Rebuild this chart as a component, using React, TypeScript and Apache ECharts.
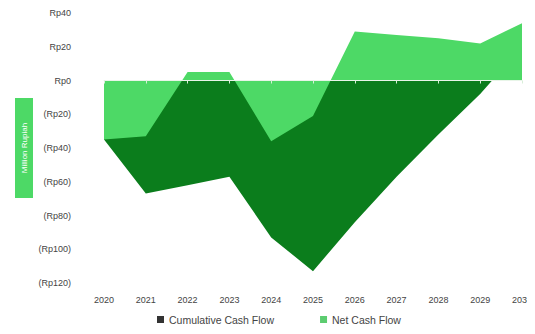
import React, { useEffect, useRef } from "react";
import * as echarts from "echarts";

const years = ["2020", "2021", "2022", "2023", "2024", "2025", "2026", "2027", "2028", "2029", "2030"];
const netCashFlow = [-35, -33, 5, 5, -36, -21, 29, 27, 25, 22, 34];
const cumulativeCashFlow = [-35, -67, -62, -57, -93, -113, -84, -57, -32, -8, 20];
const yTicks = { min: -120, max: 40, interval: 20 };

const DARK = "#0b7d1c";
const LIGHT = "#4dd966";
const FONT = "'Liberation Sans Narrow', 'Liberation Sans', Arial, sans-serif";

function fmt(v: number) {
  if (v < 0) return "(Rp" + Math.abs(v) + ")";
  return "Rp" + v;
}

export default function App() {
  const ref = useRef<HTMLDivElement>(null);
  useEffect(() => {
    if (!ref.current) return;
    const chart = echarts.init(ref.current, undefined, { renderer: "svg" });
    chart.setOption({
      animation: false,
      grid: { left: 104, right: 8, top: 13, bottom: 51, containLabel: false },
      legend: {
        bottom: 4,
        left: 152,
        itemWidth: 7,
        itemHeight: 7,
        itemGap: 46,
        icon: "rect",
        textStyle: { fontSize: 10.5, color: "#444", fontFamily: FONT },
        data: [
          { name: "Cumulative Cash Flow", itemStyle: { color: "#333" } },
          { name: "Net Cash Flow", itemStyle: { color: "#5ccc70" } },
        ],
      },
      xAxis: [
        {
          type: "category",
          data: years,
          boundaryGap: false,
          axisLine: { show: false, onZero: false },
          axisTick: { show: false },
          axisLabel: { fontSize: 9, color: "#444", fontFamily: FONT, margin: 12 },
        },
        {
          type: "category",
          data: years,
          boundaryGap: false,
          position: "bottom",
          axisLine: { show: true, onZero: true, lineStyle: { color: "#e8f5e8", width: 1 } },
          axisTick: { show: true, length: 3, lineStyle: { color: "#d8eed8" } },
          axisLabel: { show: false },
          z: 10,
        },
      ],
      yAxis: {
        type: "value",
        min: yTicks.min,
        max: yTicks.max,
        interval: yTicks.interval,
        name: "Million Rupiah",
        nameLocation: "middle",
        nameRotate: 90,
        nameGap: 71,
        nameMoveOverlap: false,
        nameTextStyle: {
          color: "#fff",
          fontSize: 8,
          fontFamily: FONT,
          backgroundColor: LIGHT,
          padding: [5, 25, 5, 25],
        },
        axisLine: { show: false },
        axisTick: { show: false },
        splitLine: { show: false },
        axisLabel: { fontSize: 9, color: "#444", fontFamily: FONT, margin: 33, formatter: fmt },
      },
      series: [
        {
          name: "Cumulative Cash Flow",
          type: "line",
          data: cumulativeCashFlow,
          symbol: "none",
          lineStyle: { width: 0 },
          itemStyle: { color: DARK },
          areaStyle: { color: DARK, opacity: 1, origin: 0 },
          z: 1,
        },
        {
          name: "Net Cash Flow",
          type: "line",
          data: netCashFlow,
          symbol: "none",
          lineStyle: { width: 0 },
          itemStyle: { color: LIGHT },
          areaStyle: { color: LIGHT, opacity: 1, origin: 0 },
          z: 2,
        },
      ],
    });
    return () => chart.dispose();
  }, []);
  return <div ref={ref} style={{ width: 535, height: 334, margin: -8 }} />;
}
